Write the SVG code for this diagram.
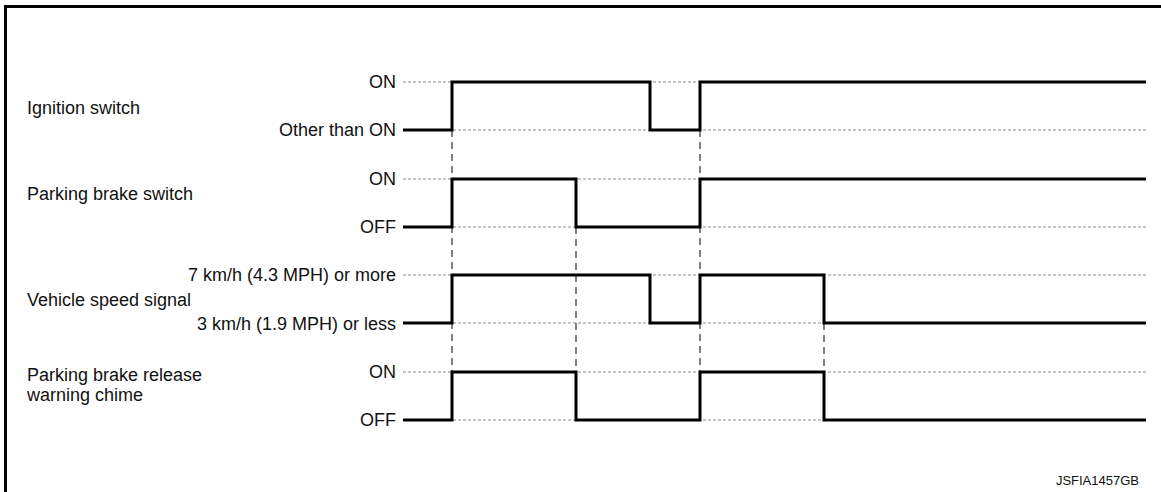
<svg xmlns="http://www.w3.org/2000/svg" width="1161" height="492" viewBox="0 0 1161 492">
  <style>
    .lbl { font-family: "Liberation Sans", Arial, sans-serif; font-size: 18px; fill: #111; }
    .lvl { font-family: "Liberation Sans", Arial, sans-serif; font-size: 18px; fill: #111; text-anchor: end; }
    .code { font-family: "Liberation Sans", Arial, sans-serif; font-size: 13px; fill: #111; text-anchor: end; }
    .guide { stroke: #8a8a8a; stroke-width: 1; stroke-dasharray: 3 2; fill: none; }
    .sig { stroke: #000; stroke-width: 3; fill: none; stroke-linejoin: miter; stroke-linecap: butt; }
    .sync { stroke: #555; stroke-width: 1.5; stroke-dasharray: 7 5; fill: none; }
  </style>

  <rect width="1161" height="492" fill="#fff"/>
  <!-- outer frame -->
  <rect x="5.5" y="6.5" width="1200" height="600" fill="none" stroke="#000" stroke-width="3"/>

  <!-- level guide lines -->
  <g id="guides">
    <line class="guide" x1="403" y1="82" x2="1146" y2="82"/>
    <line class="guide" x1="403" y1="130" x2="1146" y2="130"/>
    <line class="guide" x1="403" y1="179" x2="1146" y2="179"/>
    <line class="guide" x1="403" y1="227" x2="1146" y2="227"/>
    <line class="guide" x1="403" y1="275" x2="1146" y2="275"/>
    <line class="guide" x1="403" y1="323" x2="1146" y2="323"/>
    <line class="guide" x1="403" y1="372" x2="1146" y2="372"/>
    <line class="guide" x1="403" y1="420" x2="1146" y2="420"/>
  </g>

  <!-- timing sync lines between signals -->
  <g id="connectors">
    <line class="sync" x1="452" y1="130" x2="452" y2="372"/>
    <line class="sync" x1="576" y1="227" x2="576" y2="372"/>
    <line class="sync" x1="700" y1="130" x2="700" y2="372"/>
    <line class="sync" x1="824" y1="323" x2="824" y2="372"/>
  </g>

  <g id="ignition-switch">
    <text class="lbl" x="27" y="114">Ignition switch</text>
    <text class="lvl" x="396" y="88">ON</text>
    <text class="lvl" x="396" y="136">Other than ON</text>
    <path class="sig" d="M403,130 H452 V82 H650 V130 H700 V82 H1146"/>
  </g>

  <g id="parking-brake-switch">
    <text class="lbl" x="27" y="200">Parking brake switch</text>
    <text class="lvl" x="396" y="185">ON</text>
    <text class="lvl" x="396" y="233">OFF</text>
    <path class="sig" d="M403,227 H452 V179 H576 V227 H700 V179 H1146"/>
  </g>

  <g id="vehicle-speed-signal">
    <text class="lbl" x="27" y="306">Vehicle speed signal</text>
    <text class="lvl" x="396" y="281">7 km/h (4.3 MPH) or more</text>
    <text class="lvl" x="396" y="330">3 km/h (1.9 MPH) or less</text>
    <path class="sig" d="M403,323 H452 V275 H650 V323 H700 V275 H824 V323 H1146"/>
  </g>

  <g id="parking-brake-release-warning-chime">
    <text class="lbl" x="27" y="381">Parking brake release</text>
    <text class="lbl" x="27" y="401">warning chime</text>
    <text class="lvl" x="396" y="378">ON</text>
    <text class="lvl" x="396" y="426">OFF</text>
    <path class="sig" d="M403,420 H452 V372 H576 V420 H700 V372 H824 V420 H1146"/>
  </g>

  <text class="code" x="1139" y="485">JSFIA1457GB</text>
</svg>
